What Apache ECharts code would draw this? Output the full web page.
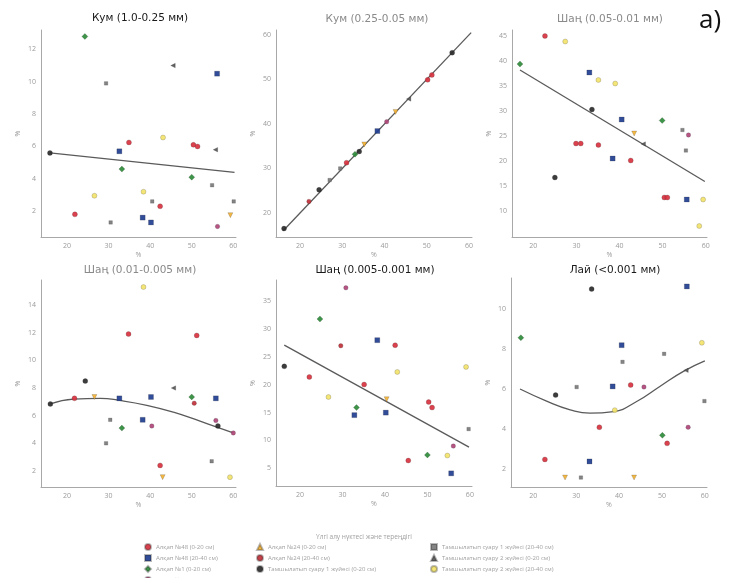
<!DOCTYPE html>
<html>
<head>
<meta charset="utf-8">
<script src="https://cdn.jsdelivr.net/npm/echarts@6/dist/echarts.min.js"></script>
<style>html,body{margin:0;padding:0;background:#fff}#c{width:733px;height:578px}</style>
</head>
<body>
<div id="c"></div>
<script>
// ---------- DATA ----------
const groupNames = [
  'Алқап №48 (0-20 см)', 'Алқап №48 (20-40 см)', 'Алқап №1 (0-20 см)', 'Алқап №1 (20-40 см)',
  'Алқап №24 (0-20 см)', 'Алқап №24 (20-40 см)', 'Тамшылатып суару 1 жүйесі (0-20 см)',
  'Тамшылатып суару 1 жүйесі (20-40 см)', 'Тамшылатып суару 2 жүйесі (0-20 см)', 'Тамшылатып суару 2 жүйесі (20-40 см)'
];
const panelTitles = ['Кум (1.0-0.25 мм)', 'Кум (0.25-0.05 мм)', 'Шаң (0.05-0.01 мм)',
  'Шаң (0.01-0.005 мм)', 'Шаң (0.005-0.001 мм)', 'Лай (<0.001 мм)'];
const xTicks = [20, 30, 40, 50, 60];
const yTicks1 = [2, 4, 6, 8, 10, 12];
const yTicks2 = [20, 30, 40, 50, 60];
const yTicks3 = [10, 15, 20, 25, 30, 35, 40, 45];
const yTicks4 = [2, 4, 6, 8, 10, 12, 14];
const yTicks5 = [5, 10, 15, 20, 25, 30, 35];
const yTicks6 = [2, 4, 6, 8, 10];
// points: [x, y, group]
const pts1 = [[24.3,12.8,2],[45.5,11.0,8],[56.1,10.5,1],[29.4,9.9,7],[15.9,5.6,6],[32.6,5.7,1],[34.9,6.25,0],
  [43.1,6.55,9],[50.4,6.1,0],[51.4,6.0,0],[55.7,5.8,8],[33.2,4.6,2],[50,4.1,2],[54.9,3.6,7],[26.6,2.95,9],
  [38.4,3.2,9],[40.5,2.6,7],[42.4,2.3,0],[60.1,2.6,7],[21.9,1.8,0],[59.3,1.75,4],[38.2,1.6,1],[40.2,1.3,1],
  [30.5,1.3,7],[56.2,1.05,3]];
const trend1 = [[15.9,5.6],[60.3,4.4]];
const pts2 = [[16.2,16.5,6],[22.1,22.6,5],[24.5,25.2,6],[27,27.4,7],[29.5,30,7],[31,31.3,0],[33,33.2,2],
  [34,33.8,6],[35.2,35.4,4],[38.3,38.4,1],[40.5,40.5,3],[42.6,42.7,4],[45.7,45.6,8],[50.2,49.9,0],[51.2,51,0],[56,56,6]];
const trend2 = [[16,16],[60.5,60.5]];
const pts3 = [[16.9,39.4,2],[22.7,45,0],[27.4,43.9,9],[33,37.7,1],[35.1,36.2,9],[39,35.5,9],[33.6,30.3,6],
  [40.5,28.3,1],[49.9,28.1,2],[43.4,25.5,4],[54.6,26.2,7],[56,25.2,3],[29.9,23.5,0],[31,23.5,0],[35.1,23.2,0],
  [45.5,23.4,8],[55.4,22.1,7],[38.4,20.5,1],[42.6,20.1,0],[25,16.7,6],[50.4,12.7,0],[51.1,12.7,0],[55.6,12.3,1],
  [59.4,12.3,9],[58.5,7,9]];
const trend3 = [[16.9,38.2],[59.8,15.9]];
const pts4 = [[38.4,15.3,9],[34.8,11.9,0],[51.2,11.8,0],[24.4,8.5,6],[45.6,8.0,8],[21.8,7.25,0],[26.6,7.35,4],
  [32.6,7.25,1],[40.2,7.35,1],[50,7.35,2],[55.8,7.25,1],[16,6.85,6],[50.6,6.9,5],[30.4,5.7,7],[38.2,5.7,1],
  [55.8,5.65,3],[33.2,5.1,2],[40.4,5.25,3],[56.3,5.25,6],[60,4.75,3],[29.4,4.0,7],[42.4,2.4,0],[43,1.55,4],
  [54.8,2.7,7],[59.2,1.55,9]];
const trend4 = [[16,6.85],[21.6,7.2],[28,7.25],[32.7,7.1],[39.2,6.75],[45.6,6.25],[52,5.6],[55.7,5.2],[60,4.75]];
const pts5 = [[30.8,37.4,3],[24.7,31.8,2],[38.2,28,1],[29.6,27,5],[42.4,27.1,0],[16.3,23.3,6],[42.9,22.3,9],
  [59.1,23.2,9],[22.2,21.4,0],[35.1,20.05,0],[26.7,17.8,9],[40.4,17.4,4],[50.3,16.9,0],[51.1,15.9,0],[33.3,15.9,2],
  [32.8,14.55,1],[40.2,15.0,1],[59.7,12.05,7],[56.1,9.0,3],[50,7.4,2],[54.7,7.3,9],[45.5,6.4,0],[55.6,4.1,1]];
const trend5 = [[16.3,27.1],[59.8,8.8]];
const pts6 = [[33.6,10.97,6],[55.8,11.1,1],[17.1,8.55,2],[40.6,8.18,1],[59.3,8.3,9],[50.5,7.75,7],[40.8,7.35,7],
  [55.6,6.93,8],[30.1,6.1,7],[38.5,6.13,1],[42.7,6.2,0],[45.8,6.1,3],[25.2,5.7,6],[59.9,5.4,7],[39,4.95,9],
  [35.4,4.1,0],[56.1,4.1,3],[50.1,3.7,2],[51.2,3.3,0],[22.7,2.5,0],[33.1,2.4,1],[27.4,1.6,4],[31.1,1.6,7],[43.5,1.6,4]];
const trend6 = [[16.9,6.0],[23.1,5.4],[28.6,4.97],[33.2,4.8],[38.7,4.88],[44.1,5.38],[49.5,6.13],[55,6.88],[60,7.4]];

// ---------- STYLE / LAYOUT ----------
const groupStyle = [
  {c:'#d8323f', s:'circle', z:5, r:0},
  {c:'#1f3d8f', s:'rect', z:5, r:0},
  {c:'#2e8b3a', s:'diamond', z:6, r:0},
  {c:'#b0457a', s:'circle', z:4.5, r:0},
  {c:'#f2b134', s:'triangle', z:5, r:180},
  {c:'#c0303a', s:'circle', z:4.5, r:0},
  {c:'#2b2b2b', s:'circle', z:5, r:0},
  {c:'#7a7a7a', s:'rect', z:3.5, r:0},
  {c:'#555555', s:'triangle', z:4.5, r:90},
  {c:'#f3e36b', s:'circle', z:5, r:0}
];
const panels = [
  {pts:pts1, tr:trend1, yt:yTicks1, g:{left:41,top:30,width:195,height:207}, xr:[13.75,60.65], yr:[0.4,13.2], smooth:false, tx:140, ty:18, tc:'#1a1a1a'},
  {pts:pts2, tr:trend2, yt:yTicks2, g:{left:276,top:30,width:196,height:207}, xr:[14.3,60.7], yr:[14.6,61.1], smooth:false, tx:377, ty:19, tc:'#8a8a8a'},
  {pts:pts3, tr:trend3, yt:yTicks3, g:{left:512,top:30,width:195,height:207}, xr:[15.05,60.3], yr:[4.8,46.2], smooth:false, tx:610, ty:19, tc:'#8a8a8a'},
  {pts:pts4, tr:trend4, yt:yTicks4, g:{left:41,top:280,width:195,height:207}, xr:[13.75,60.65], yr:[0.84,15.81], smooth:true, tx:140, ty:270, tc:'#8a8a8a'},
  {pts:pts5, tr:trend5, yt:yTicks5, g:{left:276,top:280,width:196,height:206}, xr:[14.35,60.5], yr:[1.83,38.8], smooth:false, tx:375, ty:270, tc:'#1a1a1a'},
  {pts:pts6, tr:trend6, yt:yTicks6, g:{left:511,top:278,width:196,height:209}, xr:[14.8,60.5], yr:[1.13,11.52], smooth:true, tx:615, ty:270, tc:'#1a1a1a'}
];
const FONT = '"Open Sans", "Noto Sans", sans-serif';
const TFONT = '"DejaVu Sans", "Noto Sans", sans-serif';
const grid = [], xAxis = [], yAxis = [], series = [], graphic = [];
panels.forEach((p, i) => {
  grid.push(Object.assign({containLabel:false}, p.g));
  const axisCommon = {
    type:'value', splitLine:{show:false}, axisTick:{show:false},
    axisLine:{show:true, onZero:false, lineStyle:{color:'#a8a8a8', width:1}},
    axisLabel:{color:'#9a9a9a', fontSize:7, fontFamily:FONT, margin:5},
    name:'%', nameLocation:'middle', nameTextStyle:{color:'#9a9a9a', fontSize:7, fontFamily:FONT}
  };
  xAxis.push(Object.assign({}, axisCommon, {gridIndex:i, min:p.xr[0], max:p.xr[1], nameGap:14,
    axisLabel:Object.assign({}, axisCommon.axisLabel, {customValues:xTicks, showMinLabel:true, showMaxLabel:true})}));
  yAxis.push(Object.assign({}, axisCommon, {gridIndex:i, min:p.yr[0], max:p.yr[1], nameGap:20,
    axisLabel:Object.assign({}, axisCommon.axisLabel, {customValues:p.yt})}));
  groupNames.forEach((nm, g) => {
    const d = p.pts.filter(q => q[2] === g).map(q => [q[0], q[1]]);
    if (!d.length) return;
    const st = groupStyle[g];
    series.push({type:'scatter', name:nm, xAxisIndex:i, yAxisIndex:i, data:d,
      symbol:st.s, symbolSize:st.z, symbolRotate:st.r, z:3,
      itemStyle:{color:st.c, opacity:0.92, borderColor:'rgba(40,40,40,0.35)', borderWidth:0.6}});
  });
  series.push({type:'line', name:'trend'+i, xAxisIndex:i, yAxisIndex:i, data:p.tr, smooth:p.smooth,
    showSymbol:false, symbol:'none', z:2, lineStyle:{color:'#5a5a5a', width:1.3}, silent:true});
  graphic.push({type:'text', x:p.tx, y:p.ty, style:{text:panelTitles[i], fill:p.tc, font:'10.5px '+TFONT,
    align:'center', verticalAlign:'middle', textAlign:'center', textVerticalAlign:'middle'}});
});
graphic.push({type:'text', x:710, y:21, style:{text:'a)', fill:'#111', font:'26px '+FONT,
  align:'center', verticalAlign:'middle', textAlign:'center', textVerticalAlign:'middle'}});
graphic.push({type:'text', x:364, y:537, style:{text:'Үлгі алу нүктесі және тереңдігі', fill:'#a0a0a0', font:'6.5px '+FONT,
  align:'center', verticalAlign:'middle', textAlign:'center', textVerticalAlign:'middle'}});

const legCommon = {orient:'vertical', itemWidth:6, itemHeight:6, itemGap:3, padding:0, height:80,
  textStyle:{color:'#a0a0a0', fontSize:6, lineHeight:7, fontFamily:FONT}, selectedMode:false};
const legend = [
  Object.assign({}, legCommon, {left:144, top:543, data:groupNames.slice(0,4)}),
  Object.assign({}, legCommon, {left:256, top:543, data:groupNames.slice(4,7)}),
  Object.assign({}, legCommon, {left:430, top:543, data:groupNames.slice(7,10)})
];

const chart = echarts.init(document.getElementById('c'), null, {renderer:'canvas'});
chart.setOption({backgroundColor:'#ffffff', animation:false, grid, xAxis, yAxis, series, legend, graphic});
</script>
</body>
</html>
